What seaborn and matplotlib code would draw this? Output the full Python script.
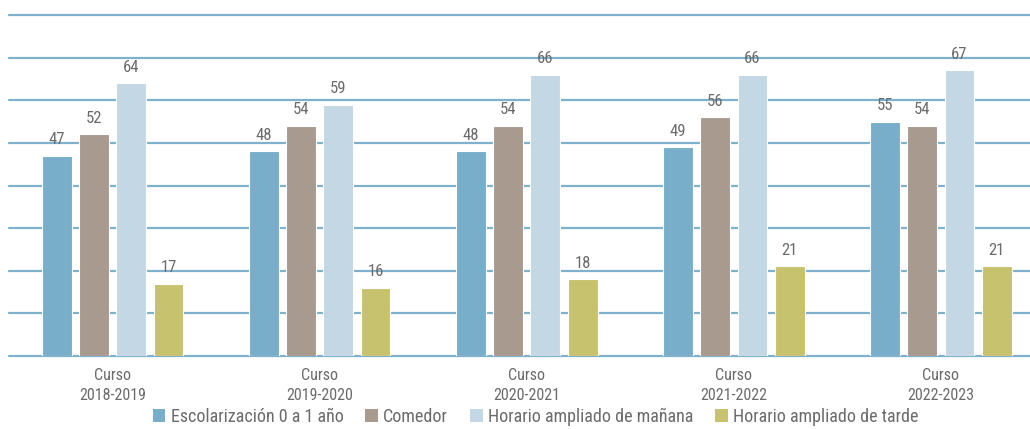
import numpy as np
import pandas as pd
import matplotlib
matplotlib.use("Agg")
import matplotlib.pyplot as plt
import seaborn as sns
from matplotlib.patches import Patch

# datos del gráfico
cursos = ["Curso\n2018-2019", "Curso\n2019-2020", "Curso\n2020-2021", "Curso\n2021-2022", "Curso\n2022-2023"]
escolarizacion = [47, 48, 48, 49, 55]
comedor = [52, 54, 54, 56, 54]
manana = [64, 59, 66, 66, 67]
tarde = [17, 16, 18, 21, 21]

series = ["Escolarización 0 a 1 año", "Comedor", "Horario ampliado de mañana", "Horario ampliado de tarde"]
colores = ["#78AECA", "#A89A8F", "#C3D7E4", "#C7C26E"]

df = pd.DataFrame({"curso": cursos * 4,
                   "serie": np.repeat(series, len(cursos)),
                   "valor": escolarizacion + comedor + manana + tarde})

sns.set_style("white")
plt.rcParams['font.family'] = ['Roboto Condensed', 'Liberation Sans Narrow', 'DejaVu Sans']

fig = plt.figure(figsize=(10.3, 4.29), dpi=100)
ax = fig.add_axes([9 / 1030, 1 - 356 / 429, 1 - 9 / 1030, (356 - 15) / 429])

sns.barplot(data=df, x="curso", y="valor", hue="serie", order=cursos, hue_order=series,
            palette=colores, saturation=1, width=0.72, gap=0.2, edgecolor="white", linewidth=0.8,
            legend=False, ax=ax, zorder=3)

for cont in ax.containers:
    ax.bar_label(cont, padding=6, color="#6b6b6b", fontsize=12)

ax.set_ylim(0, 80)
ax.set_xlim(-0.5, 4.43)
ax.set_yticks(np.arange(0, 81, 10))
ax.set_yticklabels([])
ax.yaxis.grid(True, color="#7DB1CC", linewidth=1.6)
for gl in ax.get_ygridlines():
    gl.set_clip_on(False)
ax.set_axisbelow(True)
for s in ax.spines.values():
    s.set_visible(False)
ax.tick_params(axis="both", length=0)
ax.tick_params(axis="x", labelsize=11.5, labelcolor="#6b6b6b", pad=9)
for t in ax.get_xticklabels():
    t.set_linespacing(1.35)
ax.set_xlabel("")
ax.set_ylabel("")

handles = [Patch(facecolor=c, edgecolor="none") for c in colores]
fig.legend(handles, series, loc="lower center", bbox_to_anchor=(0.52, -0.03), ncol=4,
           frameon=False, fontsize=13, labelcolor="#6b6b6b", handlelength=0.7, handleheight=0.7,
           handletextpad=0.3, columnspacing=1.2)

fig.savefig("out.png", dpi=100)
